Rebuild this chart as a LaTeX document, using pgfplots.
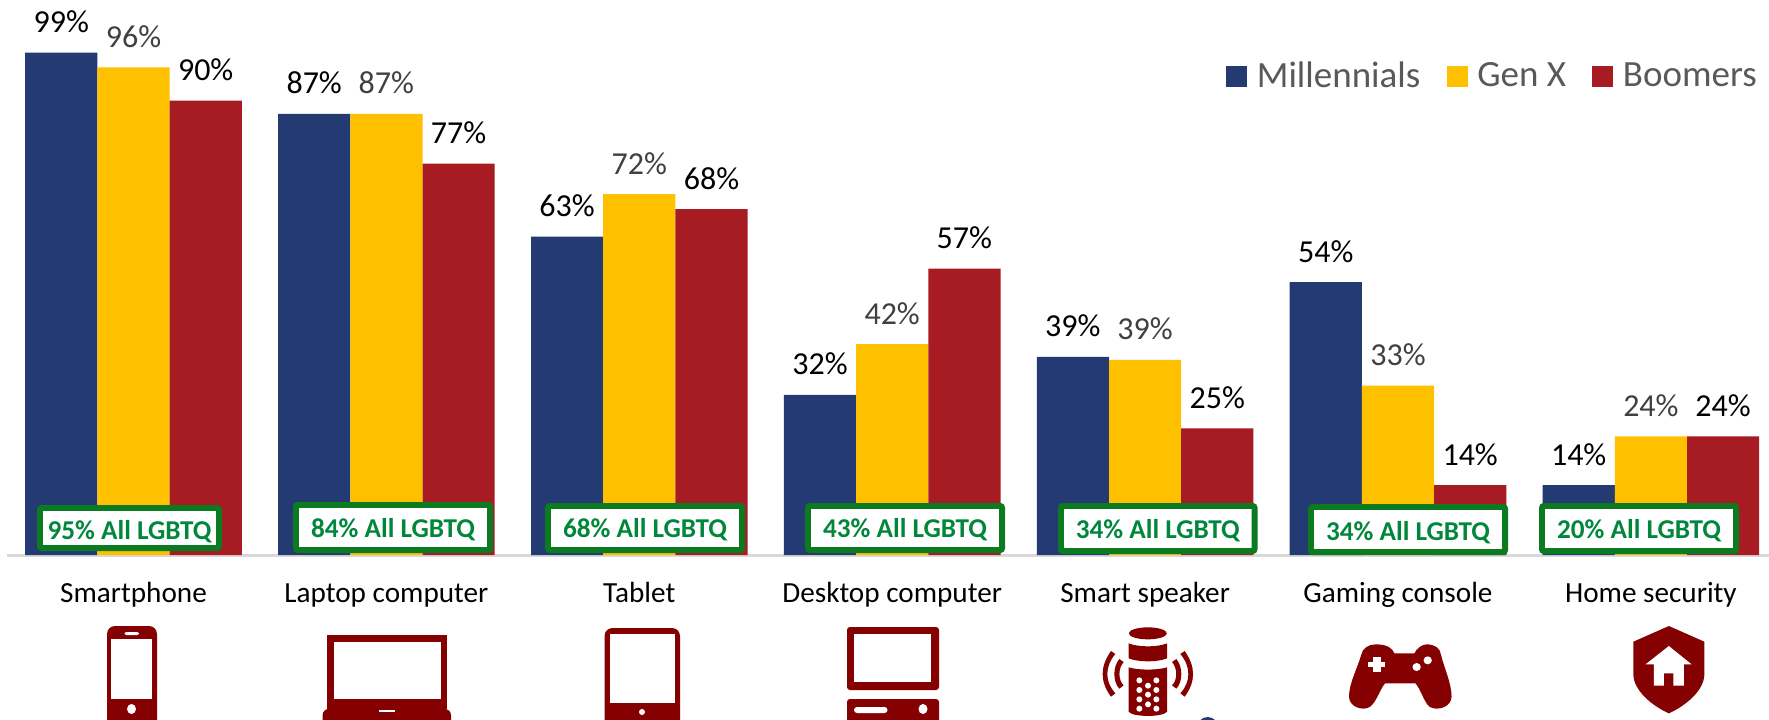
\documentclass[border=0pt]{standalone}
\usepackage{pgfplots}
\usepackage{fontspec}
\pgfplotsset{compat=1.18}
\setmainfont{Carlito}
\definecolor{navy}{HTML}{243A73}
\definecolor{gold}{HTML}{FFC000}
\definecolor{brick}{HTML}{A61C22}
\definecolor{icon}{HTML}{850000}
\definecolor{boxg}{HTML}{0B7A20}
\definecolor{txtg}{HTML}{00873C}
\definecolor{gx}{HTML}{404040}
\newcommand{\lgbtq}[6]{% x0 y0 x1 y1 (px), text, text yoffset
  \path[draw=boxg,line width=2.9pt,fill=white,rounded corners=1pt]
    (#1+2.9,#2+2.9) rectangle (#3-2.9,#4-2.9);
  \node[text=txtg,font=\fontsize{13.6}{15}\selectfont\bfseries,inner sep=0pt] at ({(#1+#3)/2},{(#2+#4)/2+#6+2}) {#5};}
\begin{document}
\begin{tikzpicture}
\path[use as bounding box] (0pt,0pt) rectangle (884.5pt,-359.5pt);
\begin{axis}[
  at={(3.5pt,0pt)},anchor=north west,
  scale only axis,width=881pt,height=359.5pt,
  xmin=-0.5002,xmax=6.467,ymin=-32.347,ymax=109.467,
  axis x line=middle,axis y line=none,
  axis line style={draw=black!15,line width=1.5pt,-},
  ybar=0pt,bar width=36.1pt,
  xtick={0,1,2,3,4,5,6},
  xticklabels={Smartphone,Laptop computer,Tablet,Desktop computer,Smart speaker,Gaming console,Home security},
  major tick length=0pt,
  xticklabel style={anchor=base,yshift=-23.5pt,font=\fontsize{14.6}{16}\selectfont,text=black},
  clip=false,
  point meta=explicit,
  nodes near coords={\pgfmathprintnumber[assume math mode=true]{\pgfplotspointmeta}\%},
  nodes near coords style={font=\fontsize{16}{18}\selectfont,anchor=base,yshift=10pt,inner sep=0pt},
  legend columns=-1,
  legend style={at={(rel axis cs:0.6918,0.9198)},anchor=north west,draw=none,fill=none,inner sep=0pt,
    font=\fontsize{18.5}{20}\selectfont,text=black!65,
    /tikz/every odd column/.style={column sep=2.75pt},
    /tikz/every even column/.style={column sep=11.2pt}},
  legend image code/.code={\fill[#1] (0pt,-5.5pt) rectangle (10.5pt,5pt);},
]
\addplot[fill=navy,draw=none,text=black] coordinates {(0,99.1)[99] (1,87)[87] (2,62.8)[63] (3,31.6)[32] (4,39.1)[39] (5,53.8)[54] (6,13.8)[14]};
\addplot[fill=gold,draw=none,text=gx] coordinates {(0,96.2)[96] (1,87)[87] (2,71.2)[72] (3,41.6)[42] (4,38.5)[39] (5,33.4)[33] (6,23.4)[24]};
\addplot[fill=brick,draw=none,text=black] coordinates {(0,89.6)[90] (1,77.2)[77] (2,68.2)[68] (3,56.5)[57] (4,25)[25] (5,13.8)[14] (6,23.4)[24]};
\legend{Millennials,Gen X,Boomers}
\end{axis}
% label boxes, pixel coordinates
\begin{scope}[x=0.5pt,y=-0.5pt]
\lgbtq{37}{505}{222}{551}{95\% All LGBTQ}{2}
\lgbtq{293}{502}{493}{553}{84\% All LGBTQ}{0}
\lgbtq{545}{503}{745}{553}{68\% All LGBTQ}{0}
\lgbtq{805}{503}{1005}{553}{43\% All LGBTQ}{0}
\lgbtq{1058}{503}{1257.5}{554}{34\% All LGBTQ}{0}
\lgbtq{1308}{504}{1508}{555}{34\% All LGBTQ}{1}
\lgbtq{1539}{503}{1739}{554}{20\% All LGBTQ}{0}
\clip (0,0) rectangle (1769,719);
% phone
\fill[icon,rounded corners=4pt] (107,626) rectangle (157,730);
\fill[white] (111,639) rectangle (152,699);
\fill[white,rounded corners=1pt] (124.5,632) rectangle (139,635);
\fill[white] (131.5,709) ellipse (4.5 and 5);
% laptop
\fill[icon] (327,635) rectangle (446.6,709);
\fill[white] (333.5,642) rectangle (441,699);
\fill[icon,rounded corners=3pt] (322.6,709) rectangle (451,730);
\fill[white] (379,709.5) rectangle (395,711.5);
% tablet
\fill[icon,rounded corners=4pt] (604.5,628) rectangle (680,730);
\fill[white] (610,634) rectangle (674.5,703);
\fill[white] (642,712) circle (3);
% desktop
\fill[icon,rounded corners=1.5pt] (847,627) rectangle (939,690);
\fill[white] (854,634) rectangle (931,682);
\fill[icon,rounded corners=1.5pt] (847,699) rectangle (939,730);
\fill[white,rounded corners=1.5pt] (854,707) rectangle (887.5,713);
\fill[white] (923,709) ellipse (4.5 and 5);
\end{scope}
% speaker: coordinates of the 3x crop at (1080,610)
\begin{scope}[shift={(540pt,-305pt)},x=0.16667pt,y=-0.16667pt]
\clip (0,0) rectangle (450,327);
\fill[icon] (203.5,70) ellipse (57 and 18);
\fill[icon] (146,100) .. controls (175,112) and (232,112) .. (261,100) -- (261,145) .. controls (232,157) and (175,157) .. (146,145) -- cycle;
\fill[icon] (146,172) .. controls (175,181) and (232,181) .. (261,172) -- (261,305) .. controls (250,322) and (157,322) .. (146,305) -- cycle;
\foreach \a/\b in {178/211,229/211,204/227,178/240,229/240,204/254,178/268,229/268,204/283,178/296,229/296}
  \fill[white] (\a,\b) circle (9);
\foreach \s in {1,-1}{
  \fill[icon] ({203.5+\s*110.5},123) .. controls ({203.5+\s*144},170) and ({203.5+\s*144},215) .. ({203.5+\s*110.5},260)
    -- ({203.5+\s*97.5},250) .. controls ({203.5+\s*129.5},215) and ({203.5+\s*129.5},170) .. ({203.5+\s*97.5},132) -- cycle;
  \fill[icon] ({203.5+\s*85.5},147) .. controls ({203.5+\s*105.5},170) and ({203.5+\s*105.5},215) .. ({203.5+\s*85.5},236)
    -- ({203.5+\s*72.5},226) .. controls ({203.5+\s*89.5},210) and ({203.5+\s*89.5},175) .. ({203.5+\s*72.5},156) -- cycle;
}
\fill[navy] (383,352) circle (31);
\end{scope}
% game pad, shield: coordinates of the crop at (900,480)
\begin{scope}[shift={(450pt,-240pt)},x=0.27716pt,y=-0.16667pt]
\fill[icon] (858,493) .. controls (880,493) and (888,505) .. (892,520) -- (928,520)
  .. controls (932,505) and (942,493) .. (950,493) .. controls (965,493) and (975,505) .. (976,525)
  .. controls (982,565) and (995,610) .. (995,650) .. controls (995,680) and (970,695) .. (955,680)
  .. controls (945,665) and (940,630) .. (930,610) -- (875,610)
  .. controls (865,630) and (860,665) .. (848,680) .. controls (835,695) and (810,680) .. (810,650)
  .. controls (810,610) and (825,565) .. (832,525) .. controls (834,505) and (845,493) .. (858,493) -- cycle;
\fill[white] (853,530) rectangle (867,576);
\fill[white] (845,545) rectangle (875,560);
\fill[white] (952,541) ellipse (7.5 and 12);
\fill[white] (932,561) ellipse (7.5 and 12);
% shield
\fill[icon] (1387,438) -- (1451,485) -- (1451,585) .. controls (1450,630) and (1420,675) .. (1387,700)
  .. controls (1354,675) and (1324,630) .. (1323,585) -- (1323,485) -- cycle;
\fill[white] (1387,498) -- (1428,553) -- (1414,553) -- (1414,617) -- (1395,617) -- (1395,580) -- (1378,580) -- (1378,617) -- (1360,617) -- (1360,553) -- (1345,553) -- cycle;
\end{scope}
\end{tikzpicture}
\end{document}
